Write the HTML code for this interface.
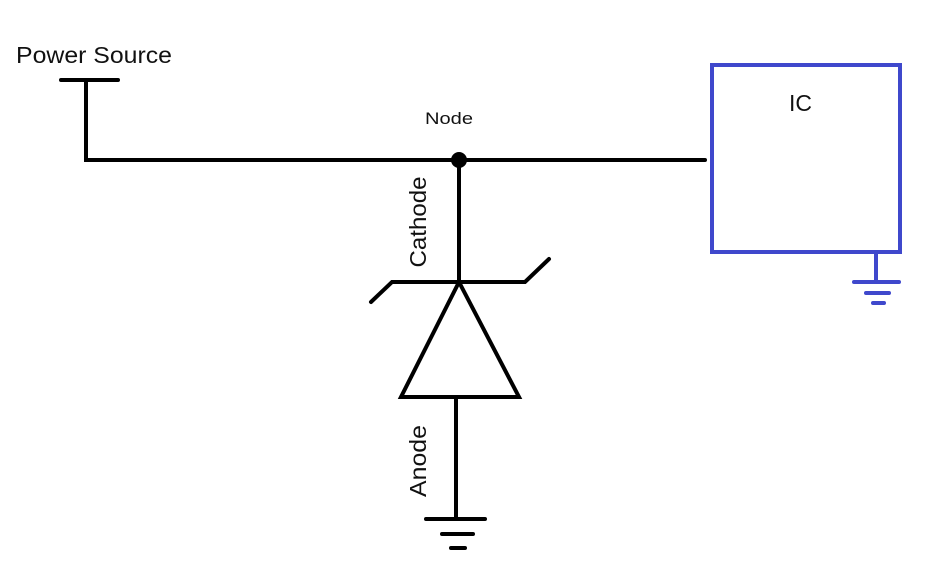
<!DOCTYPE html>
<html><head><meta charset="utf-8"><style>
html,body{margin:0;padding:0;background:#fff;}
svg{display:block;}
text{font-family:"Liberation Sans","DejaVu Sans",sans-serif;fill:#111;}
</style></head><body>
<svg width="936" height="576" viewBox="0 0 936 576" xmlns="http://www.w3.org/2000/svg">
<g stroke="#000" stroke-width="4" fill="none" stroke-linecap="round">
<line x1="61" y1="80" x2="118" y2="80"/>
<polyline points="86,80 86,160 705,160"/>
<line x1="459" y1="160" x2="459" y2="282"/>
<polyline points="371,302 392,282 525,282 549,259"/>
<polygon points="459,282 401,397 519,397" stroke-linejoin="miter"/>
<line x1="456" y1="397" x2="456" y2="519"/>
<line x1="426" y1="519" x2="485" y2="519"/>
<line x1="442" y1="534" x2="473" y2="534"/>
<line x1="451" y1="548" x2="465" y2="548"/>
</g>
<circle cx="459" cy="160" r="8" fill="#000"/>
<g stroke="#3f48cc" stroke-width="4" fill="none">
<rect x="712" y="65" width="188" height="187"/>
<line x1="876" y1="252" x2="876" y2="282"/>
<line x1="854" y1="282" x2="899" y2="282" stroke-linecap="round"/>
<line x1="866" y1="293" x2="889" y2="293" stroke-linecap="round"/>
<line x1="873" y1="303" x2="884" y2="303" stroke-linecap="round"/>
</g>
<text x="16" y="63" font-size="23" textLength="156" lengthAdjust="spacingAndGlyphs">Power Source</text>
<text x="425" y="124" font-size="17" textLength="48" lengthAdjust="spacingAndGlyphs">Node</text>
<text x="789" y="111" font-size="23">IC</text>
<text x="0" y="0" font-size="23" text-anchor="middle" textLength="91" lengthAdjust="spacingAndGlyphs" transform="translate(426,222) rotate(-90)">Cathode</text>
<text x="0" y="0" font-size="23" text-anchor="middle" textLength="72" lengthAdjust="spacingAndGlyphs" transform="translate(426,461) rotate(-90)">Anode</text>
</svg>
</body></html>
